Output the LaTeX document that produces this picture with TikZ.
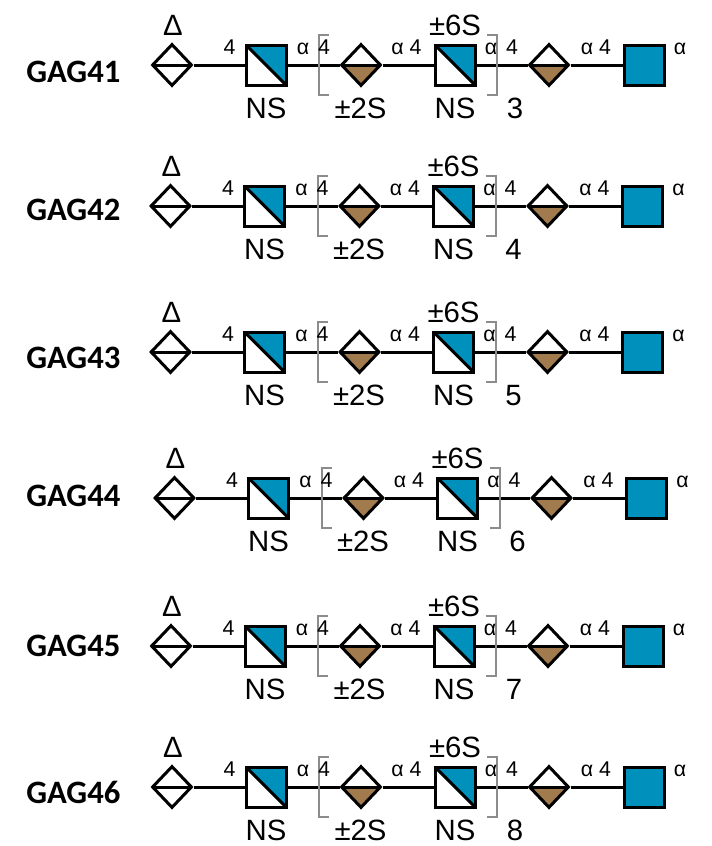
\documentclass[tikz,border=0pt]{standalone}
\usepackage{fontspec}
\setmainfont{Liberation Sans}
\newfontfamily\gagfont{Carlito}
\usetikzlibrary{shapes.geometric}
\definecolor{snfgblue}{RGB}{0,144,188}
\definecolor{snfgbrown}{RGB}{161,122,77}
\definecolor{brackgray}{RGB}{140,140,140}
\tikzset{
  lw/.style={line width=2.25pt},
  halfsq/.style={rectangle, draw, lw, fill=white, minimum size=30pt, inner sep=0pt,
    path picture={\fill[snfgblue] (path picture bounding box.north west) -- (path picture bounding box.north east) -- (path picture bounding box.south east) -- cycle;
      \draw[lw] (path picture bounding box.north west) -- (path picture bounding box.south east);}},
  fullsq/.style={rectangle, draw, lw, fill=snfgblue, minimum size=30pt, inner sep=0pt},
  halfdia/.style={diamond, draw, lw, fill=white, minimum width=30pt, minimum height=31.5pt, inner sep=0pt,
    path picture={\fill[#1] (path picture bounding box.west) rectangle (path picture bounding box.south east);
      \draw[lw] (path picture bounding box.west) -- (path picture bounding box.east);}},
  halfdia/.default=white,
  lnk/.style={font=\fontsize{16pt}{16pt}\selectfont, inner sep=0pt, anchor=base},
  sub/.style={font=\fontsize{22pt}{22pt}\selectfont, inner sep=0pt, anchor=base},
  dlt/.style={font=\fontsize{22pt}{22pt}\selectfont, inner sep=0pt, anchor=base},
  gag/.style={font=\gagfont\bfseries\fontsize{24.5pt}{24.5pt}\selectfont, inner sep=0pt, anchor=base west},
  brk/.style={draw=brackgray, line width=1.5pt},
}
\newcommand\gagrow[5]{%
  \node[gag] (#1lab) at (26,#2+#3) {#1};
  \begin{scope}[shift={(#4,#2)}]
    \node[halfdia] (#1a) at (172,0) {};
    \node[halfsq] (#1b) at (266,0) {};
    \node[halfdia=snfgbrown] (#1c) at (361,0) {};
    \node[halfsq] (#1d) at (455,0) {};
    \node[halfdia=snfgbrown] (#1e) at (549,0) {};
    \node[fullsq] (#1f) at (644,0) {};
    \draw[lw] (#1a) -- (#1b);
    \draw[lw] (#1b) -- (#1c);
    \draw[lw] (#1c) -- (#1d);
    \draw[lw] (#1d) -- (#1e);
    \draw[lw] (#1e) -- (#1f);
    \draw[brk] (329,-30) -| (319,30) -- (329,30);
    \draw[brk] (487,-30) -| (497,30) -- (487,30);
    \node[dlt] (#1delta) at (173,-30) {Δ};
    \node[lnk] (#1l1) at (229.5,-11) {4};
    \node[lnk] (#1l2) at (303,-11) {α};
    \node[lnk] (#1l3) at (324,-11) {4};
    \node[lnk] (#1l4) at (406.5,-11) {α 4};
    \node[lnk] (#1l5) at (491,-11) {α};
    \node[lnk] (#1l6) at (512,-11) {4};
    \node[lnk] (#1l7) at (596,-11) {α 4};
    \node[lnk] (#1l8) at (680,-11) {α};
    \node[sub] (#1ns1) at (266,53) {NS};
    \node[sub] (#1s2) at (360.5,53) {±2S};
    \node[sub] (#1s6) at (455,-30) {±6S};
    \node[sub] (#1ns2) at (455,53) {NS};
    \node[sub] (#1n) at (515,53) {#5};
  \end{scope}
}
\begin{document}
\begin{tikzpicture}[x=0.75pt,y=-0.75pt]
  \fill[white] (0,0) rectangle (711,846);
  \useasboundingbox (0,0) rectangle (711,846);
  \gagrow{GAG41}{65}{17}{0}{3}
  \gagrow{GAG42}{206}{14}{-1.5}{4}
  \gagrow{GAG43}{352}{16}{-1.5}{5}
  \gagrow{GAG44}{498}{8}{2.5}{6}
  \gagrow{GAG45}{646}{10}{-1}{7}
  \gagrow{GAG46}{787}{16}{0}{8}
\end{tikzpicture}
\end{document}
